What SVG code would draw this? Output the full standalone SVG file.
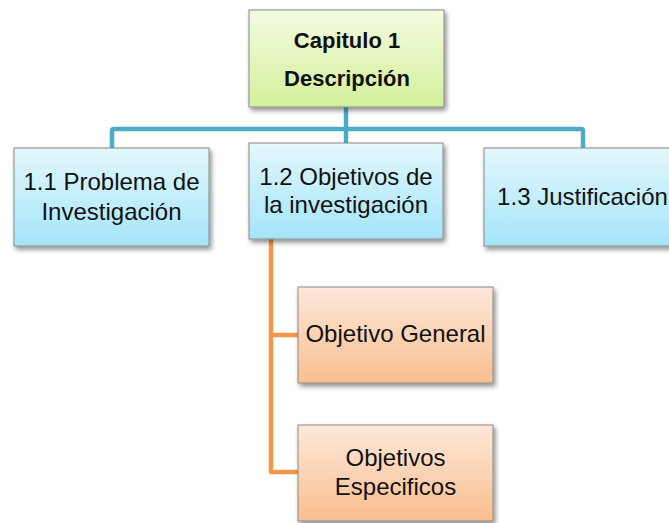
<svg xmlns="http://www.w3.org/2000/svg" width="669" height="523" viewBox="0 0 669 523">
<defs>
<linearGradient id="gGreen" x1="0" y1="0" x2="0" y2="1"><stop offset="0" stop-color="#f4fbe2"/><stop offset="1" stop-color="#d3f099"/></linearGradient>
<linearGradient id="gBlue" x1="0" y1="0" x2="0" y2="1"><stop offset="0" stop-color="#e3f7fd"/><stop offset="1" stop-color="#a4e5fa"/></linearGradient>
<linearGradient id="gOrange" x1="0" y1="0" x2="0" y2="1"><stop offset="0" stop-color="#fde8da"/><stop offset="1" stop-color="#f9be8e"/></linearGradient>
<filter id="sh" x="-10%" y="-10%" width="130%" height="130%"><feGaussianBlur in="SourceAlpha" stdDeviation="2.5"/><feOffset dx="2" dy="3" result="b"/><feComponentTransfer><feFuncA type="linear" slope="0.45"/></feComponentTransfer><feMerge><feMergeNode/><feMergeNode in="SourceGraphic"/></feMerge></filter>
</defs>
<style>
.box{stroke:#8a8a8a;stroke-width:1;filter:url(#sh)}
.t{font-family:"Liberation Sans",Arial,sans-serif;font-size:24px;fill:#111;text-anchor:middle}
.tb{font-family:"Liberation Sans",Arial,sans-serif;font-size:22px;font-weight:bold;fill:#111;text-anchor:middle}
.cb{fill:none;stroke:#4bacc6;stroke-width:4.5;stroke-linejoin:round}
.co{fill:none;stroke:#f79646;stroke-width:4.5;stroke-linejoin:round}
</style>
<rect width="669" height="523" fill="#ffffff"/>
<g id="connectors">
<path class="cb" d="M346 107 V129"/>
<path class="cb" d="M112 148 V131 Q112 129 114 129 H581 Q583 129 583 131 V148"/>
<path class="cb" d="M346 129 V143"/>
<path class="co" d="M271 239 V472 H298"/>
<path class="co" d="M271 335 H298"/>
</g>
<g id="node-cap1">
<rect class="box" x="249" y="10" width="195" height="97" fill="url(#gGreen)"/>
<text class="tb" x="347" y="48">Capitulo 1</text>
<text class="tb" x="347" y="86">Descripción</text>
</g>
<g id="node-1-1">
<rect class="box" x="14" y="148" width="195" height="98" fill="url(#gBlue)"/>
<text class="t" x="111.5" y="190">1.1 Problema de</text>
<text class="t" x="111.5" y="220">Investigación</text>
</g>
<g id="node-1-2">
<rect class="box" x="249" y="143" width="194" height="96" fill="url(#gBlue)"/>
<text class="t" x="346" y="185">1.2 Objetivos de</text>
<text class="t" x="346" y="213">la investigación</text>
</g>
<g id="node-1-3">
<rect class="box" x="484" y="148" width="197" height="98" fill="url(#gBlue)"/>
<text class="t" x="582.5" y="205">1.3 Justificación</text>
</g>
<g id="node-obj-general">
<rect class="box" x="298" y="287" width="195" height="96" fill="url(#gOrange)"/>
<text class="t" x="395.5" y="342">Objetivo General</text>
</g>
<g id="node-obj-especificos">
<rect class="box" x="298" y="425" width="195" height="96" fill="url(#gOrange)"/>
<text class="t" x="395.5" y="466">Objetivos</text>
<text class="t" x="395.5" y="495">Especificos</text>
</g>
</svg>
